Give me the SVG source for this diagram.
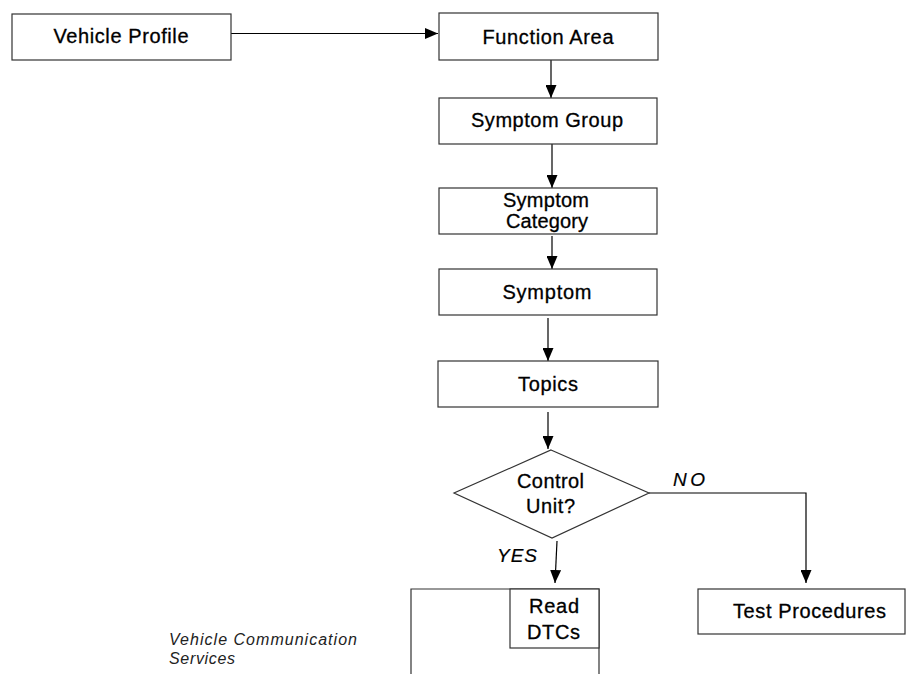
<svg xmlns="http://www.w3.org/2000/svg" width="906" height="674" viewBox="0 0 906 674">
<style>
.box{fill:#fff;stroke:#333;stroke-width:1.2}
.lbl{font-family:"Liberation Sans",Arial,sans-serif;font-size:20px;fill:#000;stroke:#000;stroke-width:0.3;text-anchor:middle}
.it{font-family:"Liberation Sans",Arial,sans-serif;font-size:19px;font-style:italic;fill:#000;stroke:#000;stroke-width:0.2}
.vcs{font-family:"Liberation Sans",Arial,sans-serif;font-size:16px;font-style:italic;fill:#222}
.con{fill:none;stroke:#000;stroke-width:1.2}
</style>
<defs>
<marker id="ah" markerUnits="userSpaceOnUse" markerWidth="13" markerHeight="11" refX="13" refY="5.5" orient="auto">
<path d="M0,0 L13,5.5 L0,11 z" fill="#000"/>
</marker>
</defs>
<rect width="906" height="674" fill="#fff"/>
<g id="connectors">
<path class="con" d="M231,33.5 H438" marker-end="url(#ah)"/>
<path class="con" d="M551,60 V98" marker-end="url(#ah)"/>
<path class="con" d="M552,144 V188" marker-end="url(#ah)"/>
<path class="con" d="M552,236 V269" marker-end="url(#ah)"/>
<path class="con" d="M548,318 V361" marker-end="url(#ah)"/>
<path class="con" d="M548,412 V449" marker-end="url(#ah)"/>
<path class="con" d="M557,541 L555,583" marker-end="url(#ah)"/>
<path class="con" d="M649,493 H806 V583" marker-end="url(#ah)"/>
</g>
<g id="vehicle-profile">
<rect class="box" x="12" y="14" width="219" height="46"/>
<text class="lbl" x="121" y="43" textLength="135">Vehicle Profile</text>
</g>
<g id="function-area">
<rect class="box" x="439" y="13" width="219" height="47"/>
<text class="lbl" x="548" y="44" textLength="131">Function Area</text>
</g>
<g id="symptom-group">
<rect class="box" x="439" y="98" width="218" height="46"/>
<text class="lbl" x="547" y="127" textLength="152">Symptom Group</text>
</g>
<g id="symptom-category">
<rect class="box" x="439" y="188" width="218" height="46"/>
<text class="lbl" x="546" y="207" textLength="86">Symptom</text>
<text class="lbl" x="547" y="228" textLength="82">Category</text>
</g>
<g id="symptom">
<rect class="box" x="439" y="269" width="218" height="46"/>
<text class="lbl" x="547" y="299" textLength="89">Symptom</text>
</g>
<g id="topics">
<rect class="box" x="438" y="361" width="220" height="46"/>
<text class="lbl" x="548" y="391" textLength="60">Topics</text>
</g>
<g id="control-unit">
<path class="box" d="M551,450 L649,493 L552,538 L454,493 Z"/>
<text class="lbl" x="550.5" y="488" textLength="67">Control</text>
<text class="lbl" x="550.5" y="513" textLength="49">Unit?</text>
</g>
<g id="label-no">
<text class="it" x="673" y="486" textLength="32">NO</text>
</g>
<g id="label-yes">
<text class="it" x="497" y="562" textLength="40">YES</text>
</g>
<g id="test-procedures">
<rect class="box" x="698" y="589" width="207" height="45"/>
<text class="lbl" x="809.5" y="618" textLength="153">Test Procedures</text>
</g>
<g id="vehicle-communication-services">
<path class="box" d="M411,674 V589 H599 V674" style="fill:none"/>
<text class="vcs" x="169" y="645" textLength="188">Vehicle Communication</text>
<text class="vcs" x="169" y="664" textLength="66">Services</text>
</g>
<g id="read-dtcs">
<rect class="box" x="510" y="589" width="89" height="59"/>
<text class="lbl" x="554" y="613" textLength="50">Read</text>
<text class="lbl" x="553.5" y="639" textLength="53">DTCs</text>
</g>
</svg>
